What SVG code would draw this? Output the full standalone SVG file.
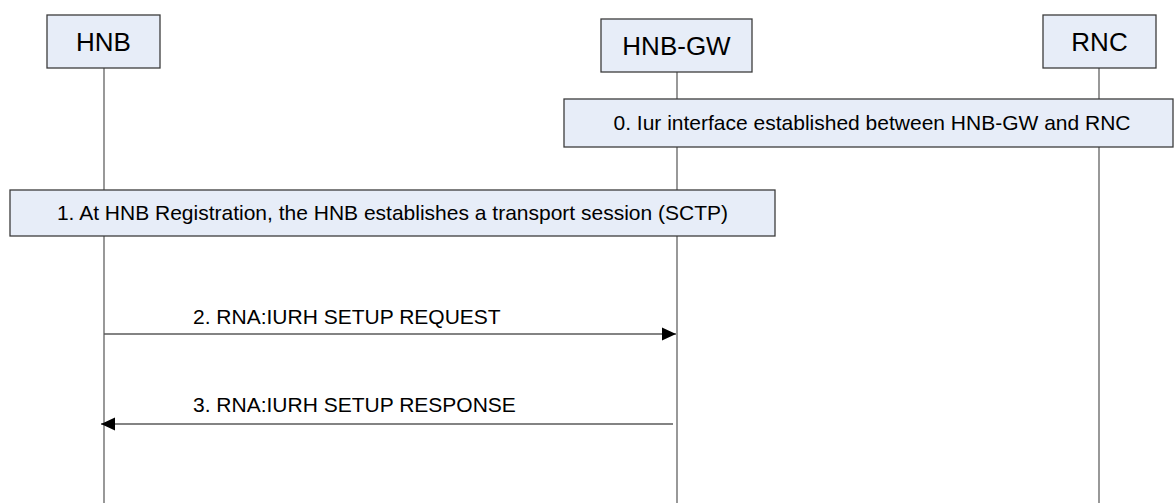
<svg xmlns="http://www.w3.org/2000/svg" width="1174" height="503" viewBox="0 0 1174 503">
<style>
.box{fill:#E7EDF8;stroke:#3c3c3c;stroke-width:1.3}
.life{stroke:#7f7f7f;stroke-width:1.6;fill:none}
.msg{stroke:#5a5a5a;stroke-width:1.3;fill:none}
.t{font-family:"Liberation Sans",Arial,sans-serif;fill:#000}
.node{font-size:26px;text-anchor:middle}
.note{font-size:21px;text-anchor:middle}
.lbl{font-size:21px}
</style>
<defs>
<marker id="ah" markerWidth="14" markerHeight="14" refX="14" refY="7" orient="auto" markerUnits="userSpaceOnUse">
<path d="M0,0.5 L14,7 L0,13.5 Z" fill="#000"/>
</marker>
</defs>
<g id="lifelines">
<line class="life" x1="104" y1="68" x2="104" y2="503"/>
<line class="life" x1="677" y1="72" x2="677" y2="503"/>
<line class="life" x1="1099" y1="68" x2="1099" y2="503"/>
</g>
<g id="node-hnb">
<rect class="box" x="47" y="15" width="113" height="53"/>
<text class="t node" x="103.5" y="51">HNB</text>
</g>
<g id="node-hnbgw">
<rect class="box" x="601" y="19" width="151" height="53"/>
<text class="t node" x="676.5" y="55">HNB-GW</text>
</g>
<g id="node-rnc">
<rect class="box" x="1043" y="15" width="113" height="53"/>
<text class="t node" x="1099.5" y="51">RNC</text>
</g>
<g id="step0">
<rect class="box" x="564" y="99" width="609" height="48"/>
<text class="t note" x="872" y="130">0. Iur interface established between HNB-GW and RNC</text>
</g>
<g id="step1">
<rect class="box" x="10" y="190" width="765" height="46"/>
<text class="t note" x="392.5" y="220">1. At HNB Registration, the HNB establishes a transport session (SCTP)</text>
</g>
<g id="connectors">
<line class="msg" x1="104" y1="334" x2="676" y2="334" marker-end="url(#ah)"/>
<text class="t lbl" x="193" y="324">2. RNA:IURH SETUP REQUEST</text>
<line class="msg" x1="673" y1="424" x2="101" y2="424" marker-end="url(#ah)"/>
<text class="t lbl" x="193" y="412">3. RNA:IURH SETUP RESPONSE</text>
</g>
</svg>
